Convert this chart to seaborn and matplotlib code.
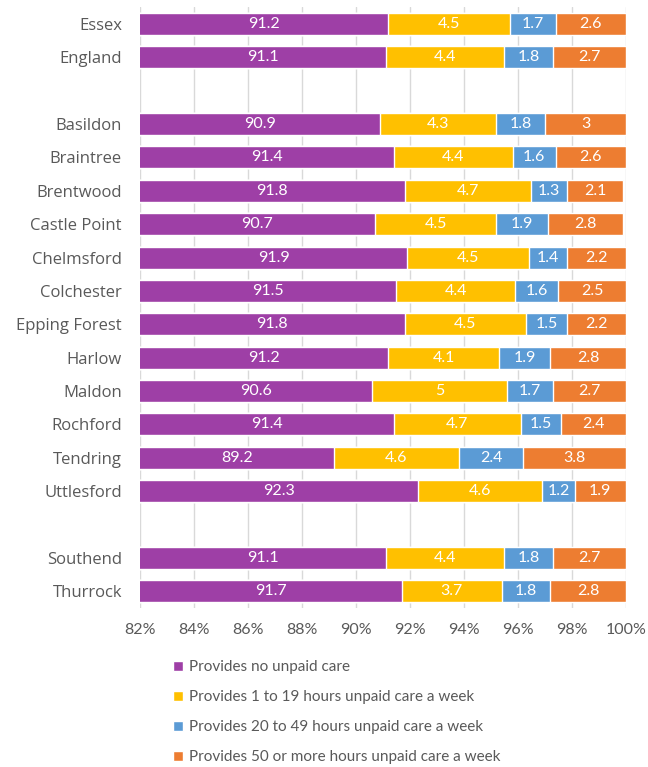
import numpy as np
import pandas as pd
import matplotlib
matplotlib.use("Agg")
import matplotlib.pyplot as plt
import seaborn as sns

# data
areas = ["Essex", "England", "Basildon", "Braintree", "Brentwood", "Castle Point",
         "Chelmsford", "Colchester", "Epping Forest", "Harlow", "Maldon", "Rochford",
         "Tendring", "Uttlesford", "Southend", "Thurrock"]
no_care = [91.2, 91.1, 90.9, 91.4, 91.8, 90.7, 91.9, 91.5, 91.8, 91.2, 90.6, 91.4,
           89.2, 92.3, 91.1, 91.7]
care_1_19 = [4.5, 4.4, 4.3, 4.4, 4.7, 4.5, 4.5, 4.4, 4.5, 4.1, 5, 4.7, 4.6, 4.6, 4.4, 3.7]
care_20_49 = [1.7, 1.8, 1.8, 1.6, 1.3, 1.9, 1.4, 1.6, 1.5, 1.9, 1.7, 1.5, 2.4, 1.2, 1.8, 1.8]
care_50 = [2.6, 2.7, 3, 2.6, 2.1, 2.8, 2.2, 2.5, 2.2, 2.8, 2.7, 2.4, 3.8, 1.9, 2.7, 2.8]
series_names = ["Provides no unpaid care",
                "Provides 1 to 19 hours unpaid care a week",
                "Provides 20 to 49 hours unpaid care a week",
                "Provides 50 or more hours unpaid care a week"]
colors = ["#9E3FA6", "#FFC000", "#5B9BD5", "#ED7D31"]

# row order with blank spacer rows
row_order = ["Essex", "England", " ", "Basildon", "Braintree", "Brentwood", "Castle Point",
             "Chelmsford", "Colchester", "Epping Forest", "Harlow", "Maldon", "Rochford",
             "Tendring", "Uttlesford", "  ", "Southend", "Thurrock"]

df = pd.DataFrame({"area": areas, series_names[0]: no_care, series_names[1]: care_1_19,
                   series_names[2]: care_20_49, series_names[3]: care_50})
vals = df[series_names].to_numpy()
cum = np.cumsum(vals, axis=1)

sns.set_theme(style="white")
plt.rcParams["font.family"] = ["Lato", "DejaVu Sans"]
grey = "#595959"

fig = plt.figure(figsize=(6.48, 7.67), dpi=100)
ax = fig.add_axes([0.216, 0.2073, 0.75, 0.7832])

# draw cumulative totals, largest first so each segment shows
for i in range(3, -1, -1):
    plot_df = pd.DataFrame({"area": areas, "x": cum[:, i]})
    sns.barplot(data=plot_df, x="x", y="area", order=row_order, color=colors[i],
                saturation=1, width=0.66, orient="h", ax=ax, label=series_names[i],
                errorbar=None)

ax.set_xlim(82, 100)
ax.set_ylim(len(row_order) - 0.5, -0.5)
ax.set_xticks(np.arange(82, 101, 2))
ax.set_xticklabels([f"{t}%" for t in range(82, 101, 2)], color=grey, fontsize=11.5)
ax.set_yticks(range(len(row_order)))
ax.set_yticklabels(row_order, color=grey, fontsize=12, family=["Open Sans", "DejaVu Sans"])
ax.tick_params(axis="y", length=0, pad=13)
ax.tick_params(axis="x", length=0, pad=11)
ax.set_xlabel("")
ax.set_ylabel("")
ax.grid(axis="x", color="#D9D9D9", linewidth=1)
ax.set_axisbelow(True)
for s in ax.spines.values():
    s.set_visible(False)

# segment labels
for r, name in enumerate(areas):
    y = row_order.index(name)
    left = 82
    for i in range(4):
        right = cum[r, i]
        v = vals[r, i]
        ax.text((left + right) / 2, y, f"{v:g}", ha="center", va="center",
                color="white", fontsize=11.5)
        left = right

# legend below the plot in one column
handles, labels = ax.get_legend_handles_labels()
order = [labels.index(n) for n in series_names]
if ax.legend_:
    ax.legend_.remove()
fig.legend([handles[k] for k in order], series_names, loc="upper left",
           bbox_to_anchor=(0.255, 0.149), ncol=1, frameon=False, fontsize=11,
           labelcolor=grey, handlelength=0.65, handleheight=0.65, handletextpad=0.4,
           labelspacing=1.05, borderpad=0)

fig.savefig("out.png", dpi=100)
